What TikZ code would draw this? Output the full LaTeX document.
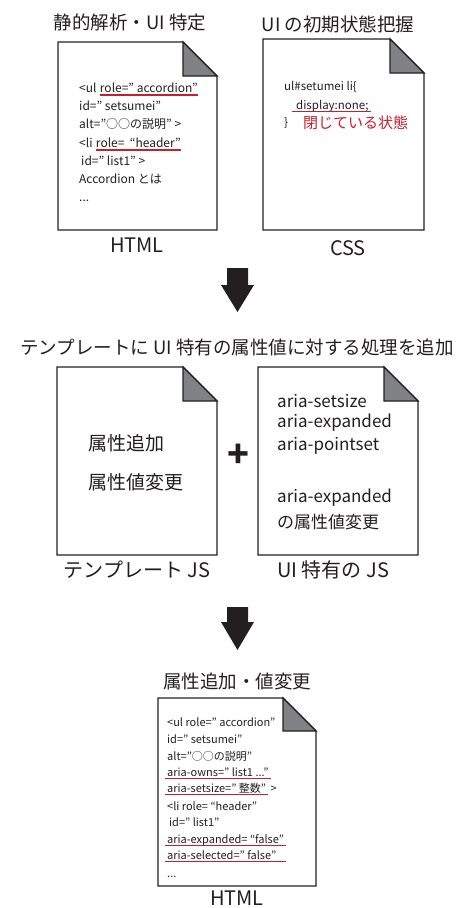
\documentclass[tikz,border=0pt]{standalone}
\usepackage{fontspec}
\setmainfont{Noto Sans CJK JP}
\definecolor{ink}{RGB}{35,31,32}
\definecolor{foldgray}{RGB}{128,130,133}
\definecolor{ulred}{RGB}{200,30,45}
\newcommand{\foldeddoc}[2]{%
  \draw[docline] (#1.north west) -- ([xshift=-#2]#1.north east) -- ([yshift=-#2]#1.north east) -- (#1.south east) -- (#1.south west) -- cycle;
  \draw[foldfill] ([xshift=-#2]#1.north east) -- ([xshift=-#2,yshift=-#2]#1.north east) -- ([yshift=-#2]#1.north east) -- cycle;
}
\begin{document}
\begin{tikzpicture}[x=1pt,y=-1pt,
  docbox/.style={draw=none,inner sep=0pt,outer sep=0pt,rectangle},
  docline/.style={line width=1.3pt,draw=ink,fill=white,line join=miter},
  foldfill/.style={line width=1.3pt,draw=ink,fill=foldgray,line join=miter},
  codeA/.style={font=\fontsize{12}{14}\selectfont,text=ink,inner sep=0pt,text height=9pt,text depth=2.4pt,anchor=west},
  codeB/.style={font=\fontsize{11.5}{14}\selectfont,text=ink,inner sep=0pt,text height=8.6pt,text depth=2.3pt,anchor=west},
  codeC/.style={font=\fontsize{11}{13}\selectfont,text=ink,inner sep=0pt,text height=8.2pt,text depth=2.2pt,anchor=west},
  title/.style={font=\fontsize{18.5}{20}\selectfont,text=ink,inner sep=0pt},
  label/.style={font=\fontsize{20}{22}\selectfont,text=ink,inner sep=0pt},
  jsL/.style={font=\fontsize{19}{21}\selectfont,text=ink,inner sep=0pt,anchor=west},
  jsR/.style={font=\fontsize{17}{19}\selectfont,text=ink,inner sep=0pt,anchor=west},
  ul/.style={draw=ulred,line width=1.2pt},
  bigarrow/.style={fill=ink}]
\useasboundingbox (0,0) rectangle (465,908);

% ---------- top left: HTML ----------
\node[title] (t1) at (130,22) {静的解析・UI 特定};
\node[docbox,minimum width=159pt,minimum height=188pt] (html1) at (137.5,136) {};
\foldeddoc{html1}{34pt}
\node[codeA] (a1) at (79,89) {<ul};
\node[codeA,anchor=west] (a1u) at ([xshift=3pt]a1.east) {role=”\ accordion”};
\node[codeA] (a2) at (79,107) {id=”\ setsumei”};
\node[codeA] (a3) at (79,125) {alt=”○○の説明”\ >};
\node[codeA] (a4) at (79,144) {<li};
\node[codeA,anchor=west] (a4u) at ([xshift=3pt]a4.east) {role=\ \ “header”\ };
\node[codeA] (a5) at (81,162) {id=”\ list1”\ >};
\node[codeA] (a6) at (79,180) {Accordion とは};
\node[codeA] (a7) at (79,198) {...};
\draw[ul] (a1u.south west) -- (a1u.south east);
\draw[ul] (a4u.south west) -- (a4u.south east);
\node[label] (l1) at (137,245) {HTML};

% ---------- top right: CSS ----------
\node[title] (t2) at (338,24) {UI の初期状態把握};
\node[docbox,minimum width=161pt,minimum height=191pt] (css) at (343.5,134.5) {};
\foldeddoc{css}{34pt}
\node[codeB] (c1) at (284,87) {ul\#setumei li\{};
\node[codeB] (c2) at (296,106) {display:none;};
\node[codeB] (c3) at (284,123) {\}};
\node[font=\fontsize{15}{17}\selectfont,text=ulred,inner sep=0pt,anchor=west] (c4) at (303,123) {閉じている状態};
\coordinate (c2s) at ([xshift=-4pt]c2.south west);
\draw[ul] (c2s) -- ([xshift=2pt]c2.south east);
\node[label] (l2) at (348,248) {CSS};

% ---------- arrow 1 ----------
\fill[bigarrow] (227,268) -- (248,268) -- (248,285) -- (254,285) -- (237.5,312) -- (221,285) -- (227,285) -- cycle;

% ---------- middle ----------
\node[title] (t3) at (237,347) {テンプレートに UI 特有の属性値に対する処理を追加};
\node[docbox,minimum width=160pt,minimum height=188pt] (jsl) at (137,461) {};
\foldeddoc{jsl}{34pt}
\node[jsL] (j1) at (88,443) {属性追加};
\node[jsL] (j2) at (88,482) {属性値変更};
\node[font=\fontsize{36}{36}\selectfont\bfseries,text=ink,inner sep=0pt] (plus) at (238,456) {+};
\node[docbox,minimum width=160pt,minimum height=188pt] (jsr) at (338,461) {};
\foldeddoc{jsr}{34pt}
\node[jsR] (r1) at (277,401) {aria-setsize};
\node[jsR] (r2) at (277,423) {aria-expanded};
\node[jsR] (r3) at (277,446) {aria-pointset};
\node[jsR] (r4) at (277,498) {aria-expanded};
\node[jsR] (r5) at (277,522) {の属性値変更};
\node[label] (l3) at (137,570) {テンプレート JS};
\node[label] (l4) at (333,570) {UI 特有の JS};

% ---------- arrow 2 ----------
\fill[bigarrow] (227,607) -- (248,607) -- (248,622) -- (254,622) -- (237.5,650) -- (221,622) -- (227,622) -- cycle;

% ---------- bottom: HTML ----------
\node[title] (t4) at (237,681) {属性追加・値変更};
\node[docbox,minimum width=158pt,minimum height=188pt] (html2) at (237,792) {};
\foldeddoc{html2}{33pt}
\node[codeC] (b1) at (167,723) {<ul role=”\ accordion”};
\node[codeC] (b2) at (167,740) {id=”\ setsumei”};
\node[codeC] (b3) at (167,757) {alt=”○○の説明”};
\node[codeC] (b4) at (167,773) {aria-owns=”\ list1 ...”};
\node[codeC] (b5) at (167,789) {aria-setsize=”\ 整数”};
\node[codeC,anchor=west] (b5b) at ([xshift=4pt]b5.east) {>};
\node[codeC] (b6) at (167,807) {<li role=\ “header”};
\node[codeC] (b7) at (169,823) {id=”\ list1”};
\node[codeC] (b8) at (167,840) {aria-expanded=\ “false”};
\node[codeC] (b9) at (167,856) {aria-selected=”\ false”};
\node[codeC] (b10) at (167,874) {...};
\draw[ul] ([xshift=-2pt]b4.south west) -- ([xshift=2pt]b4.south east);
\draw[ul] ([xshift=-2pt]b5.south west) -- ([xshift=2pt]b5.south east);
\draw[ul] ([xshift=-2pt]b8.south west) -- ([xshift=2pt]b8.south east);
\draw[ul] ([xshift=-2pt]b9.south west) -- ([xshift=2pt]b9.south east -| b8.south east);
\node[label] (l5) at (237,898) {HTML};
\end{tikzpicture}
\end{document}
